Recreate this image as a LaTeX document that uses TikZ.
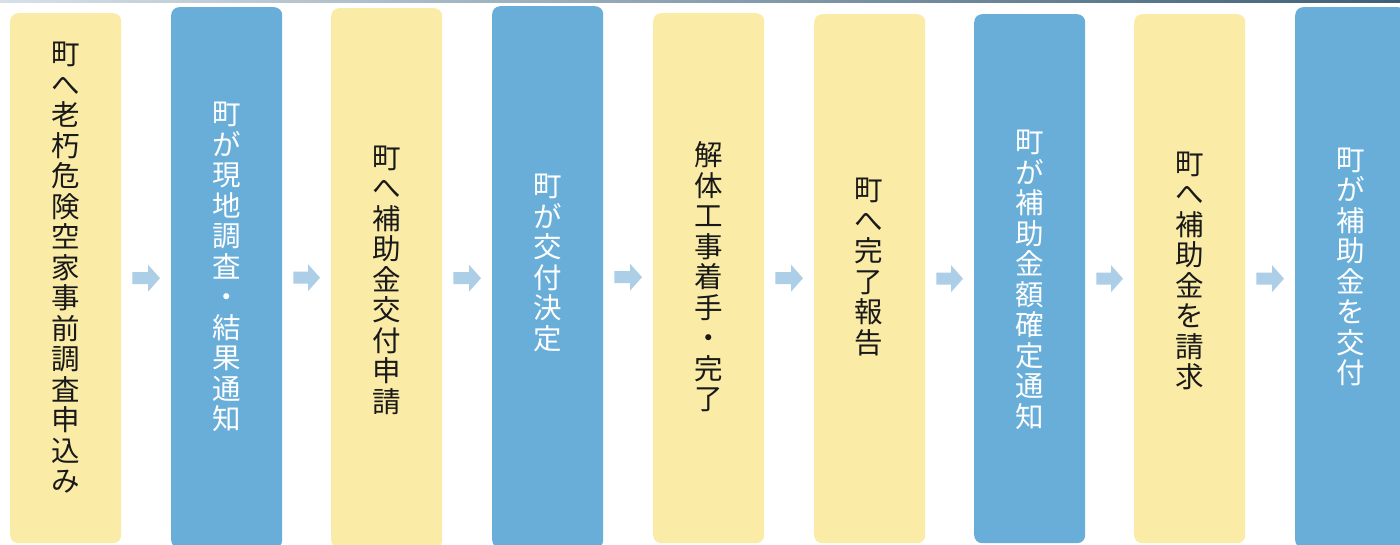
\documentclass[tikz,border=0pt]{standalone}
\usepackage{fontspec}
\newfontfamily\jp{Noto Sans CJK JP}
\usetikzlibrary{calc}
\definecolor{boxyellow}{RGB}{250,236,166}
\definecolor{boxblue}{RGB}{104,174,217}
\definecolor{arrowc}{RGB}{172,206,230}
\definecolor{lineL}{RGB}{214,224,232}
\definecolor{lineR}{RGB}{62,96,118}
\tikzset{
  stepbox/.style={rectangle, rounded corners=8pt, draw=none, anchor=north west, inner sep=0pt},
  ybox/.style={stepbox, fill=boxyellow},
  bbox/.style={stepbox, fill=boxblue},
  jtxt/.style={align=center, inner sep=0pt, font={\jp\fontsize{28.5}{30.5}\selectfont}},
  dark/.style={jtxt, text=black!90},
  light/.style={jtxt, text=white},
}
\newcommand\fatarr[2]{%
  \path ([xshift=11pt]#1.east) coordinate (s) ([xshift=-11pt]#1.east -| #2.west) coordinate (e);
  \fill[arrowc] ($(s)+(0,-6)$) -- ($(e)+(-12,-6)$) -- ($(e)+(-12,-13.5)$) -- (e)
     -- ($(e)+(-12,13.5)$) -- ($(e)+(-12,6)$) -- ($(s)+(0,6)$) -- cycle;}
\begin{document}
\begin{tikzpicture}[x=1pt,y=-1pt]
\useasboundingbox (0,0) rectangle (1400,545);
\clip (0,0) rectangle (1400,545);
\fill[white] (0,0) rectangle (1400,545);
\shade[left color=lineL, right color=lineR] (0,0) rectangle (1400,2.5);
% boxes
\node[ybox, minimum width=111pt, minimum height=530pt] (b1) at (10,13) {};
\node[bbox, minimum width=111pt, minimum height=541pt] (b2) at (171,7) {};
\node[ybox, minimum width=111pt, minimum height=540pt] (b3) at (331,8) {};
\node[bbox, minimum width=111pt, minimum height=542pt] (b4) at (492,6) {};
\node[ybox, minimum width=111pt, minimum height=530pt] (b5) at (653,13) {};
\node[ybox, minimum width=111pt, minimum height=529pt] (b6) at (814,14) {};
\node[bbox, minimum width=111pt, minimum height=529pt] (b7) at (974,14) {};
\node[ybox, minimum width=111pt, minimum height=529pt] (b8) at (1134,14) {};
\node[bbox, minimum width=111pt, minimum height=541pt] (b9) at (1295,7) {};
% texts
\node[dark]  (t1) at (65.5,268) {町\\へ\\老\\朽\\危\\険\\空\\家\\事\\前\\調\\査\\申\\込\\み};
\node[light] (t2) at (226.5,267) {町\\が\\現\\地\\調\\査\\・\\結\\果\\通\\知};
\node[dark]  (t3) at (386.5,280) {町\\へ\\補\\助\\金\\交\\付\\申\\請};
\node[light] (t4) at (547.5,263) {町\\が\\交\\付\\決\\定};
\node[dark]  (t5) at (708.5,277) {解\\体\\工\\事\\着\\手\\・\\完\\了};
\node[dark]  (t6) at (869,267) {町\\へ\\完\\了\\報\\告};
\node[light] (t7) at (1029.5,280) {町\\が\\補\\助\\金\\額\\確\\定\\通\\知};
\node[dark]  (t8) at (1189.5,271) {町\\へ\\補\\助\\金\\を\\請\\求};
\node[light] (t9) at (1351,267) {町\\が\\補\\助\\金\\を\\交\\付};
% arrows
\fatarr{b1}{b2}
\fatarr{b2}{b3}
\fatarr{b3}{b4}
\fatarr{b4}{b5}
\fatarr{b5}{b6}
\fatarr{b6}{b7}
\fatarr{b7}{b8}
\fatarr{b8}{b9}
\end{tikzpicture}
\end{document}
